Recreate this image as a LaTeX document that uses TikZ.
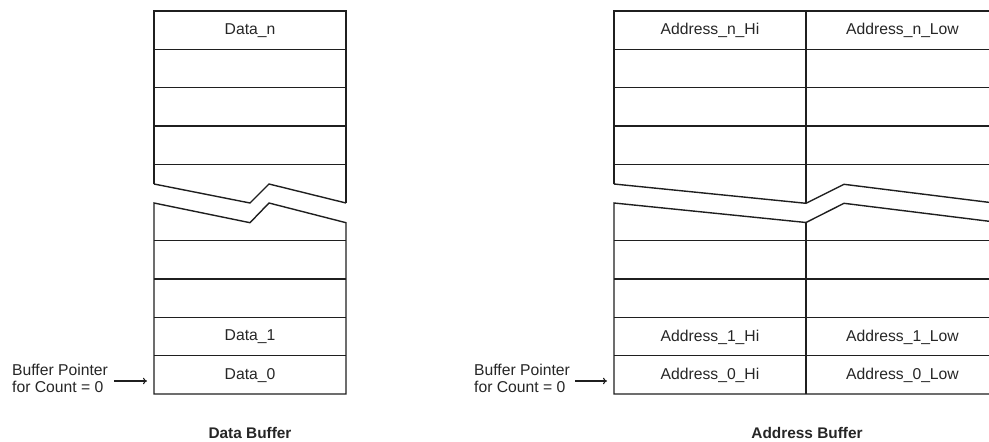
\documentclass[tikz,border=0pt]{standalone}
\usepackage{fontspec}
\setmainfont{Liberation Sans}
\usetikzlibrary{arrows.meta}
\begin{document}
\begin{tikzpicture}[x=1pt,y=-1pt,
  frame/.style={line width=1.4pt,draw=black!88,line join=miter},
  cell/.style={font=\fontsize{15.7}{17}\selectfont,text=black!85,inner sep=0pt},
  caption/.style={font=\fontsize{15.4}{17}\selectfont\bfseries,text=black!85,inner sep=0pt},
  ptrlabel/.style={font=\fontsize{15.7}{17}\selectfont,text=black!85,align=left,anchor=west,inner sep=0pt},
  ptrarrow/.style={line width=1.1pt,draw=black!88,-{To[length=4pt,width=6.5pt]}}]
\useasboundingbox (0,0) rectangle (989,442);

% ---------- Data buffer ----------
\draw[frame] (154,184) -- (154,11) -- (346,11) -- (346,203);
\foreach \y in {49.3,87.7,126,164.3} \draw[frame] (154,\y) -- (346,\y);
\draw[frame] (154,184) -- (250,203) -- (269,184) -- (346,203);
\draw[frame] (346,222.7) -- (269,203) -- (250,222.7) -- (154,203)
  -- (154,394) -- (346,394) -- cycle;
\foreach \y in {240.7,279,317.3,355.7} \draw[frame] (154,\y) -- (346,\y);

\node[cell] (dn) at (250,30.6) {Data\_n};
\node[cell] (d1) at (250,337) {Data\_1};
\node[cell] (d0) at (250,375.3) {Data\_0};
\node[caption] (dcap) at (250,432.5) {Data Buffer};

\node[ptrlabel] (dptr) at (12,378.5) {Buffer Pointer\\for Count = 0};
\coordinate (dfrom) at (114,381);
\coordinate (dto) at (147,381);
\draw[ptrarrow] (dfrom) -- (dto);

% ---------- Address buffer ----------
\draw[frame] (614,184) -- (614,11) -- (999,11) -- (999,203.6);
\foreach \y in {49.3,87.7,126,164.3} \draw[frame] (614,\y) -- (999,\y);
\draw[frame] (806,11) -- (806,203.3);
\draw[frame] (614,184) -- (806,203.3) -- (844,184.3) -- (999,203.6);
\draw[frame] (999,222.5) -- (844,203.3) -- (806,222.5) -- (614,203)
  -- (614,394) -- (999,394) -- cycle;
\draw[frame] (806,222.5) -- (806,394);
\foreach \y in {240.7,279,317.3,355.7} \draw[frame] (614,\y) -- (999,\y);

\node[cell] (anh) at (710,30.6) {Address\_n\_Hi};
\node[cell] (anl) at (902.5,30.6) {Address\_n\_Low};
\node[cell] (a1h) at (710,337) {Address\_1\_Hi};
\node[cell] (a1l) at (902.5,337) {Address\_1\_Low};
\node[cell] (a0h) at (710,375.3) {Address\_0\_Hi};
\node[cell] (a0l) at (902.5,375.3) {Address\_0\_Low};
\node[caption] (acap) at (807,432.5) {Address Buffer};

\node[ptrlabel] (aptr) at (474,378.5) {Buffer Pointer\\for Count = 0};
\coordinate (afrom) at (575,381);
\coordinate (ato) at (607,381);
\draw[ptrarrow] (afrom) -- (ato);
\end{tikzpicture}
\end{document}
